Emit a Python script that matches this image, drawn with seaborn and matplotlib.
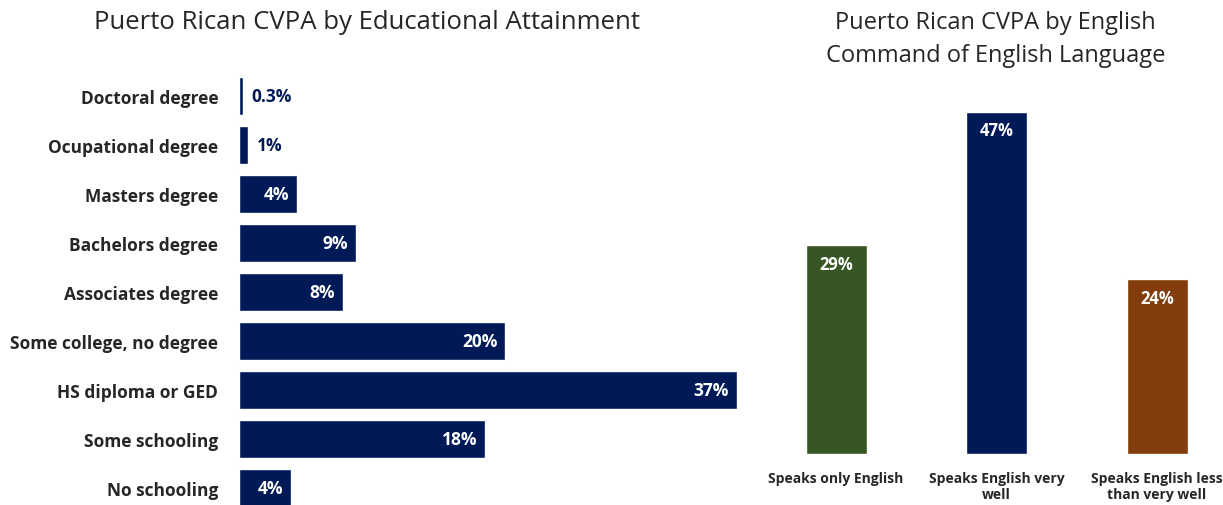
import matplotlib
matplotlib.use("Agg")
import matplotlib.pyplot as plt
import seaborn as sns
import pandas as pd

sns.set_style("white")
plt.rcParams['font.family'] = ['Open Sans', 'DejaVu Sans']

navy = "#001A57"
green = "#375623"
orange = "#833C0B"

edu_levels = ["Doctoral degree", "Ocupational degree", "Masters degree", "Bachelors degree",
              "Associates degree", "Some college, no degree", "HS diploma or GED",
              "Some schooling", "No schooling"]
edu_pct = [0.3, 0.7, 4.3, 8.7, 7.7, 19.8, 37, 18.3, 3.9]
edu_text = ["0.3%", "1%", "4%", "9%", "8%", "20%", "37%", "18%", "4%"]

eng_levels = ["Speaks only English", "Speaks English very\nwell", "Speaks English less\nthan very well"]
eng_pct = [28.7, 47, 24]
eng_text = ["29%", "47%", "24%"]
eng_colors = [green, navy, orange]

edu = pd.DataFrame({"level": edu_levels, "pct": edu_pct})
eng = pd.DataFrame({"level": eng_levels, "pct": eng_pct})

fig = plt.figure(figsize=(12.23, 5.06), dpi=100)

# left: educational attainment
ax1 = fig.add_axes([0.1954, 0.0, 0.44, 1.0])
sns.barplot(data=edu, x="pct", y="level", orient="h", color=navy, width=0.776,
            saturation=1, ax=ax1)
ax1.set_xlim(0, 40)
ax1.set_ylim(8.35, -1.98)
ax1.set_xlabel("")
ax1.set_ylabel("")
ax1.set_xticks([])
ax1.tick_params(axis="y", length=0, pad=15)
for lbl in ax1.get_yticklabels():
    lbl.set_fontweight("bold")
    lbl.set_fontsize(12.5)
for i, (v, t) in enumerate(zip(edu_pct, edu_text)):
    if v >= 3:
        ax1.text(v - 0.6, i, t, ha="right", va="center", color="white",
                 fontsize=12.5, fontweight="bold")
    else:
        ax1.text(v + 0.6, i, t, ha="left", va="center", color=navy,
                 fontsize=12.5, fontweight="bold")
sns.despine(ax=ax1, left=True, bottom=True)

fig.text(0.30, 0.955, "Puerto Rican CVPA by Educational Attainment",
         ha="center", va="center", fontsize=18.5)

# right: command of English
ax2 = fig.add_axes([0.6214, 0.1008, 0.3786, 0.7016])
sns.barplot(data=eng, x="level", y="pct", hue="level", palette=eng_colors,
            width=0.38, saturation=1, legend=False, ax=ax2)
ax2.set_xlim(-0.474, 2.411)
ax2.set_ylim(0, 48.77)
ax2.set_xlabel("")
ax2.set_ylabel("")
ax2.set_yticks([])
ax2.tick_params(axis="x", length=0, pad=12)
for lbl in ax2.get_xticklabels():
    lbl.set_fontweight("bold")
    lbl.set_fontsize(10)
    lbl.set_linespacing(1.2)
for i, t in enumerate(eng_text):
    ax2.text(i, eng_pct[i] - 1.3, t, ha="center", va="top", color="white",
             fontsize=12, fontweight="bold")
sns.despine(ax=ax2, left=True, bottom=True)

fig.text(0.814, 0.922, "Puerto Rican CVPA by English\nCommand of English Language",
         ha="center", va="center", fontsize=17, linespacing=1.45)

fig.savefig("out.png", dpi=100)
